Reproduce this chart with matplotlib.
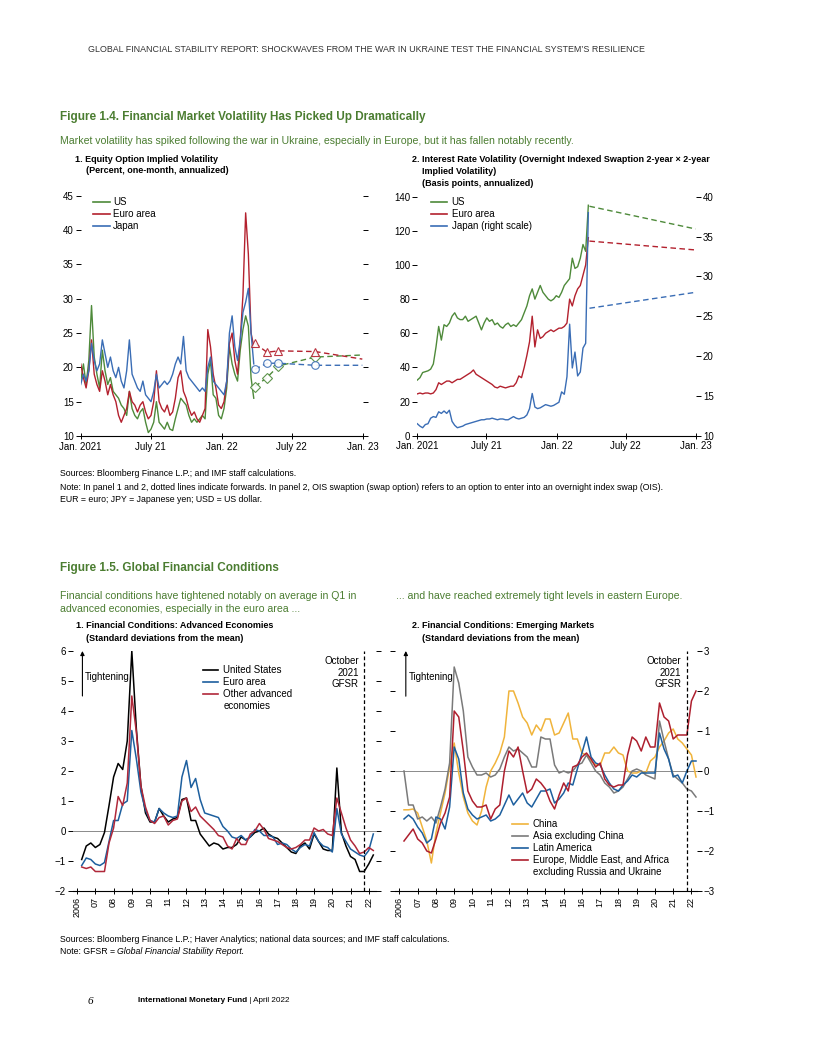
import pandas as pd
import matplotlib
matplotlib.use('Agg')
import matplotlib.pyplot as plt
from matplotlib.lines import Line2D

W, H = 816, 1056
plt.rcParams['font.family'] = ['Liberation Sans Narrow', 'Liberation Sans', 'DejaVu Sans']

# ---------------- Figure 1.4 data (weekly readings, Jan 2021 - Mar 2022) ----------------
weeks = pd.date_range('2021-01-01', periods=65, freq='7D')

eq_us = [18.0, 20.5, 17.5, 21.0, 29.0, 21.5, 19.0, 17.0, 22.5, 19.5,
         17.5, 18.5, 16.5, 16.0, 15.5, 14.5, 14.0, 13.0, 16.5, 14.0,
         13.0, 12.5, 13.5, 14.0, 12.0, 10.5, 11.0, 12.0, 15.0, 12.0,
         11.5, 11.0, 12.0, 11.0, 10.8, 12.5, 14.0, 15.5, 15.0, 14.5,
         13.0, 12.0, 12.5, 12.0, 12.5, 13.0, 12.5, 19.0, 21.0, 16.0,
         15.5, 13.0, 12.5, 14.0, 17.0, 23.0, 20.5, 19.0, 18.0, 22.5,
         25.5, 27.5, 26.0, 18.5, 15.5]
eq_euro = [20.5, 18.5, 17.0, 19.5, 24.0, 19.0, 17.5, 16.5, 19.5, 18.0,
           16.0, 17.5, 16.0, 15.0, 13.0, 12.0, 13.0, 14.0, 16.5, 15.0,
           14.5, 13.5, 14.5, 15.0, 13.5, 12.5, 13.0, 15.0, 19.5, 15.0,
           14.0, 13.5, 14.5, 13.0, 13.5, 15.5, 18.5, 19.5, 16.5, 15.5,
           14.0, 13.0, 13.5, 12.5, 12.0, 13.0, 14.0, 25.5, 23.0, 19.0,
           17.0, 14.5, 14.0, 15.0, 18.0, 23.5, 25.0, 21.0, 19.0, 24.0,
           30.5, 42.5, 36.5, 25.0, 23.0]
eq_japan = [17.5, 19.0, 18.0, 19.5, 23.5, 21.0, 19.5, 20.5, 24.0, 22.0,
            20.0, 21.5, 19.5, 18.5, 20.0, 18.0, 17.0, 19.5, 24.0, 19.0,
            18.0, 17.0, 16.5, 18.0, 16.0, 15.5, 15.0, 16.5, 19.0, 17.0,
            17.5, 18.0, 17.5, 18.0, 19.0, 20.5, 21.5, 20.5, 24.5, 19.5,
            18.5, 18.0, 17.5, 17.0, 16.5, 17.0, 16.5, 20.0, 21.5, 18.0,
            17.5, 17.0, 16.5, 16.0, 18.0, 25.0, 27.5, 23.0, 21.0, 24.0,
            28.0, 29.5, 31.5, 25.0, 20.5]

fwd_dates = pd.to_datetime(['2022-03-28', '2022-04-28', '2022-05-28', '2022-08-31', '2022-12-31'])
eq_us_fwd = [17.2, 18.5, 20.2, 21.5, 21.8]
eq_euro_fwd = [23.5, 22.2, 22.4, 22.3, 21.2]
eq_japan_fwd = [19.7, 20.6, 20.6, 20.3, 20.3]

ir_us = [32.6, 34.0, 37.0, 37.5, 38.0, 39.0, 42.0, 52.0, 64.0, 56.0,
         65.0, 64.0, 66.0, 70.0, 72.0, 69.0, 68.0, 68.0, 70.0, 67.0,
         68.0, 69.0, 70.0, 66.0, 62.0, 66.0, 69.0, 67.0, 68.0, 65.0,
         66.0, 64.0, 63.0, 65.0, 66.0, 64.0, 65.0, 64.0, 66.0, 68.0,
         72.0, 76.0, 82.0, 86.0, 80.0, 84.0, 88.0, 84.0, 82.0, 80.0,
         79.0, 80.0, 82.0, 81.0, 84.0, 88.0, 90.0, 92.0, 104.0, 98.0,
         99.0, 104.0, 112.0, 108.0, 135.0]
ir_euro = [24.5, 25.0, 24.5, 25.0, 25.0, 24.5, 25.0, 27.0, 31.0, 30.0,
           31.0, 32.0, 32.0, 31.0, 32.0, 33.0, 33.0, 34.0, 35.0, 36.0,
           37.0, 38.5, 36.0, 35.0, 34.0, 33.0, 32.0, 31.0, 30.0, 28.5,
           28.0, 29.0, 28.5, 28.0, 28.5, 29.0, 29.0, 31.0, 35.0, 34.0,
           40.0, 47.0, 55.0, 70.0, 52.0, 62.0, 57.0, 58.0, 60.0, 61.0,
           62.0, 61.0, 62.0, 63.0, 63.0, 64.0, 66.0, 80.0, 76.0, 82.0,
           86.0, 88.0, 94.0, 100.0, 116.0]
ir_japan = [11.5, 11.2, 11.0, 11.4, 11.5, 12.2, 12.4, 12.3, 13.0, 12.8,
            13.1, 12.8, 13.2, 11.8, 11.3, 11.0, 11.1, 11.2, 11.4, 11.5,
            11.6, 11.7, 11.8, 11.9, 12.0, 12.0, 12.1, 12.1, 12.2, 12.1,
            12.0, 12.1, 12.1, 12.0, 12.0, 12.2, 12.4, 12.2, 12.1, 12.2,
            12.3, 12.6, 13.4, 15.3, 13.6, 13.4, 13.5, 13.7, 13.9, 13.8,
            13.7, 13.8, 14.0, 14.2, 15.5, 15.2, 17.4, 24.0, 18.5, 20.5,
            17.5, 18.0, 21.0, 21.6, 38.0]

ir_fwd_dates = pd.to_datetime(['2022-03-28', '2022-12-31'])
ir_us_fwd = [134.4, 121.1]
ir_euro_fwd = [114.0, 108.8]
ir_japan_fwd = [26.0, 28.0]

month_ticks = pd.to_datetime(['2021-01-01', '2021-07-01', '2022-01-01', '2022-07-01', '2023-01-01'])
month_labels = ['Jan. 2021', 'July 21', 'Jan. 22', 'July 22', 'Jan. 23']

# ---------------- Figure 1.5 data (quarterly, 2006:Q1 - 2022:Q1) ----------------
quarters = pd.period_range('2006Q1', '2022Q1', freq='Q')
qx = quarters.year + quarters.quarter / 4  # plotted at quarter end

fc_us = [-0.95, -0.5, -0.4, -0.55, -0.45, -0.05, 0.85, 1.8, 2.25, 2.05, 3.0, 6.0,
         3.4, 1.5, 0.6, 0.3, 0.3, 0.75, 0.5, 0.3, 0.4, 0.45, 1.05, 1.1,
         0.35, 0.35, -0.1, -0.3, -0.5, -0.4, -0.45, -0.6, -0.55, -0.55, -0.45,
         -0.2, -0.3, -0.2, -0.05, 0.0, 0.1, -0.1, -0.2, -0.25, -0.4, -0.55, -0.7,
         -0.75, -0.5, -0.4, -0.6, -0.1, -0.35, -0.6, -0.65, -0.65,
         2.1, -0.05, -0.5, -0.85, -0.95, -1.35, -1.35, -1.1, -0.8]
fc_euro = [-1.15, -0.9, -0.95, -1.1, -1.15, -1.05, -0.35, 0.35, 0.35, 0.9, 1.0, 3.35,
           2.4, 1.3, 0.7, 0.35, 0.3, 0.75, 0.6, 0.5, 0.45, 0.5, 1.8, 2.35,
           1.45, 1.75, 1.05, 0.6, 0.55, 0.5, 0.45, 0.15, 0.0, -0.2, -0.25,
           -0.15, -0.3, -0.2, 0.05, 0.0, -0.15, -0.15, -0.2, -0.45, -0.4, -0.45, -0.6,
           -0.7, -0.55, -0.45, -0.5, -0.05, -0.35, -0.5, -0.55, -0.7,
           0.75, -0.1, -0.35, -0.6, -0.7, -0.8, -0.85, -0.65, -0.1]
fc_other = [-1.2, -1.25, -1.2, -1.35, -1.35, -1.35, -0.4, 0.1, 1.15, 0.85, 1.6, 4.5,
            3.3, 1.5, 0.8, 0.35, 0.25, 0.45, 0.5, 0.2, 0.35, 0.4, 1.0, 1.1,
            0.65, 0.8, 0.5, 0.35, 0.2, 0.05, -0.15, -0.2, -0.5, -0.6, -0.25,
            -0.45, -0.45, -0.1, 0.0, 0.25, 0.05, -0.25, -0.3, -0.35, -0.45, -0.55, -0.6,
            -0.55, -0.45, -0.3, -0.3, 0.1, 0.0, 0.05, -0.1, -0.15,
            1.1, 0.6, 0.1, -0.3, -0.5, -0.75, -0.7, -0.55, -0.65]

em_china = [-0.97, -0.97, -0.95, -1.05, -1.4, -1.75, -2.3, -1.55, -1.05, -0.55,
            0.1, 0.7, -0.05, -0.65, -1.05, -1.25, -1.35, -1.0, -0.4, 0.0,
            0.2, 0.45, 0.85, 2.0, 2.0, 1.7, 1.35, 1.2, 0.9, 1.15,
            1.0, 1.3, 1.3, 0.9, 0.95, 1.2, 1.45, 0.8, 0.8, 0.45,
            0.4, 0.25, 0.15, 0.15, 0.45, 0.45, 0.6, 0.45, 0.4, 0.0,
            -0.05, -0.05, 0.0, -0.05, 0.25, 0.35, 0.6, 0.75, 0.95, 1.05,
            0.8, 0.7, 0.55, 0.4, -0.15]
em_asia = [0.0, -0.85, -0.85, -1.2, -1.15, -1.25, -1.15, -1.3, -0.9, -0.45,
           0.2, 2.6, 2.2, 1.5, 0.35, 0.1, -0.1, -0.1, -0.05, -0.15,
           -0.1, 0.05, 0.35, 0.6, 0.5, 0.55, 0.45, 0.35, 0.1, 0.1,
           0.85, 0.8, 0.8, 0.15, -0.05, 0.0, -0.05, 0.0, 0.15, 0.2,
           0.4, 0.2, 0.0, -0.1, -0.3, -0.4, -0.55, -0.5, -0.4, -0.2,
           0.0, 0.05, 0.0, -0.1, -0.15, -0.2, 1.25, 0.75, 0.3, -0.1,
           -0.2, -0.3, -0.45, -0.5, -0.65]
em_latam = [-1.2, -1.1, -1.2, -1.4, -1.55, -1.8, -1.7, -1.15, -1.2, -1.45,
            -0.9, 0.6, 0.3, -0.55, -0.95, -1.1, -1.2, -1.15, -1.1, -1.25,
            -1.2, -1.1, -0.85, -0.6, -0.85, -0.7, -0.55, -0.8, -0.9, -0.7,
            -0.5, -0.5, -0.45, -0.8, -0.7, -0.55, -0.3, -0.35, 0.05, 0.45,
            0.85, 0.35, 0.2, 0.15, -0.1, -0.3, -0.45, -0.5, -0.35, -0.25,
            -0.1, -0.15, -0.05, -0.05, -0.05, -0.05, 0.95, 0.55, 0.3, -0.15,
            -0.1, -0.3, 0.0, 0.25, 0.25]
em_emea = [-1.75, -1.6, -1.45, -1.7, -1.8, -2.0, -2.05, -1.7, -1.3, -1.05,
           -0.65, 1.5, 1.35, 0.5, -0.5, -0.75, -0.9, -0.9, -0.85, -1.2,
           -0.95, -0.85, 0.0, 0.5, 0.35, 0.6, 0.0, -0.55, -0.45, -0.2,
           -0.3, -0.45, -0.75, -0.95, -0.6, -0.3, -0.5, 0.1, 0.15, 0.35,
           0.45, 0.3, 0.1, 0.2, -0.2, -0.35, -0.4, -0.35, -0.35, 0.4,
           0.85, 0.75, 0.5, 0.85, 0.6, 0.6, 1.7, 1.35, 1.25, 0.8,
           0.9, 0.9, 0.9, 1.75, 2.0]

years = list(range(2006, 2023))
year_labels = ['2006'] + ['%02d' % (y % 100) for y in years[1:]]
gfsr_date = 2021.75

# colours
GREEN_TXT = '#4b7d31'
C_US, C_EU, C_JP = '#4e8a3a', '#b3212e', '#3a6db5'
C_BLK, C_EA, C_OTH = '#000000', '#1d5f9e', '#b0283a'
C_CN, C_AS, C_LA, C_EM = '#f0b43c', '#7a7a7a', '#1d5f9e', '#ae1f2e'

FS = 7.0        # ticks, legends, annotations
FS_YEAR = 6.5   # rotated year labels
BUMP = 1.05     # fonts are wider than the condensed original; trade a little width for height

fig = plt.figure(figsize=(W / 100, H / 100), dpi=100)
renderer = fig.canvas.get_renderer()


def rect(x0, y0, x1, y1):
    return [x0 / W, 1 - y1 / H, (x1 - x0) / W, (y1 - y0) / H]


def txt(x, y, s, **kw):
    kw.setdefault('va', 'center')
    return fig.text(x / W, 1 - y / H, s, **kw)


def fit_size(s, target, **kw):
    t = fig.text(0, 0, s, fontsize=10, **kw)
    w = t.get_window_extent(renderer).width
    t.remove()
    return 10 * target / w


def after(t):
    return t.get_window_extent(renderer).x1


def key(x0, x1, xt, y, lines, color):
    fig.add_artist(Line2D([x0 / W, x1 / W], [1 - y / H, 1 - y / H], color=color, lw=1.2))
    for j, s in enumerate(lines):
        txt(xt, y + 12 * j, s, fontsize=FS)


def style(ax, labelleft=True, labelright=False, fs=FS):
    for s in ['left', 'right', 'top']:
        ax.spines[s].set_visible(False)
    ax.spines['bottom'].set_linewidth(0.8)
    ax.tick_params(axis='x', direction='inout', length=5, width=0.7, labelsize=fs, pad=1.5)
    ax.tick_params(axis='y', direction='out', length=3.5, width=0.7, labelsize=FS, pad=1.5,
                   left=True, right=True, labelleft=labelleft, labelright=labelright)


# ---------------- page text ----------------
header = "GLOBAL FINANCIAL STABILITY REPORT: SHOCKWAVES FROM THE WAR IN UKRAINE TEST THE FINANCIAL SYSTEM\u2019S RESILIENCE"
txt(88, 50, header, fontsize=fit_size(header, 553), color='#333333')

title_fs = BUMP * fit_size("Figure 1.4. Financial Market Volatility Has Picked Up Dramatically", 346, fontweight='bold')
sub_fs = BUMP * fit_size("Market volatility has spiked following the war in Ukraine, especially in Europe, but it has fallen notably recently.", 492)
ptitle_fs = fit_size("2. Interest Rate Volatility (Overnight Indexed Swaption 2-year \u00d7 2-year", 298, fontweight='bold')
note_fs = fit_size("Sources: Bloomberg Finance L.P.; Haver Analytics; national data sources; and IMF staff calculations.", 393)

txt(60, 117, "Figure 1.4. Financial Market Volatility Has Picked Up Dramatically", fontsize=title_fs, fontweight='bold', color=GREEN_TXT)
txt(60, 141, "Market volatility has spiked following the war in Ukraine, especially in Europe, but it has fallen notably recently.",
    fontsize=sub_fs, color=GREEN_TXT)
txt(75, 159, "1. Equity Option Implied Volatility", fontsize=ptitle_fs, fontweight='bold')
txt(86.5, 171, "(Percent, one-month, annualized)", fontsize=ptitle_fs, fontweight='bold')
txt(411.5, 159, "2. Interest Rate Volatility (Overnight Indexed Swaption 2-year \u00d7 2-year", fontsize=ptitle_fs, fontweight='bold')
txt(422, 171.5, "Implied Volatility)", fontsize=ptitle_fs, fontweight='bold')
txt(422, 183.5, "(Basis points, annualized)", fontsize=ptitle_fs, fontweight='bold')

txt(60, 474, "Sources: Bloomberg Finance L.P.; and IMF staff calculations.", fontsize=note_fs)
txt(60, 487, "Note: In panel 1 and 2, dotted lines indicate forwards. In panel 2, OIS swaption (swap option) refers to an option to enter into an overnight index swap (OIS).", fontsize=note_fs)
txt(60, 499, "EUR = euro; JPY = Japanese yen; USD = US dollar.", fontsize=note_fs)

txt(60, 568, "Figure 1.5. Global Financial Conditions", fontsize=title_fs, fontweight='bold', color=GREEN_TXT)
txt(60, 596, "Financial conditions have tightened notably on average in Q1 in", fontsize=sub_fs, color=GREEN_TXT)
txt(60, 609, "advanced economies, especially in the euro area ...", fontsize=sub_fs, color=GREEN_TXT)
txt(396.5, 596, "... and have reached extremely tight levels in eastern Europe.", fontsize=sub_fs, color=GREEN_TXT)
txt(76, 626, "1. Financial Conditions: Advanced Economies", fontsize=ptitle_fs, fontweight='bold')
txt(86.5, 638.5, "(Standard deviations from the mean)", fontsize=ptitle_fs, fontweight='bold')
txt(411.5, 626, "2. Financial Conditions: Emerging Markets", fontsize=ptitle_fs, fontweight='bold')
txt(422, 638.5, "(Standard deviations from the mean)", fontsize=ptitle_fs, fontweight='bold')

txt(60, 940, "Sources: Bloomberg Finance L.P.; Haver Analytics; national data sources; and IMF staff calculations.", fontsize=note_fs)
t = txt(60, 952, "Note: GFSR = ", fontsize=note_fs)
txt(after(t), 952, "Global Financial Stability Report.", fontsize=note_fs, fontstyle='italic')

foot_fs = fit_size("International Monetary Fund | April 2022", 145)
txt(88, 1001, "6", fontsize=8, fontstyle='italic', family=['Liberation Serif', 'DejaVu Serif'])
t = txt(138, 1001, "International Monetary Fund", fontsize=foot_fs, fontweight='bold')
txt(after(t), 1001, " | April 2022", fontsize=foot_fs)

# ---------------- Figure 1.4, panel 1 ----------------
ax1 = fig.add_axes(rect(80.7, 195.7, 362.7, 436))
ax1.plot(weeks, eq_us, color=C_US, lw=1.0)
ax1.plot(weeks, eq_euro, color=C_EU, lw=1.0)
ax1.plot(weeks, eq_japan, color=C_JP, lw=1.0)
for vals, col, mk in [(eq_us_fwd, C_US, 'D'), (eq_euro_fwd, C_EU, '^'), (eq_japan_fwd, C_JP, 'o')]:
    ax1.plot(fwd_dates, vals, color=col, lw=1.0, ls=(0, (4, 2.5)))
    ax1.plot(fwd_dates[:4], vals[:4], ls='none', marker=mk, ms=5.5 if mk != 'D' else 4.6,
             mfc='white', mec=col, mew=0.8, alpha=0.9)
ax1.set_xlim(month_ticks[0], month_ticks[-1])
ax1.set_ylim(10, 45)
ax1.set_yticks(range(10, 50, 5))
ax1.set_xticks(month_ticks)
ax1.set_xticklabels(month_labels)
style(ax1)
key(93.3, 110, 113.3, 202.3, ['US'], C_US)
key(93.3, 110, 113.3, 214.3, ['Euro area'], C_EU)
key(93.3, 110, 113.3, 226.3, ['Japan'], C_JP)

# ---------------- Figure 1.4, panel 2 ----------------
ax2 = fig.add_axes(rect(417.3, 196.7, 696, 435.7))
ax2.plot(weeks, ir_us, color=C_US, lw=1.0)
ax2.plot(weeks, ir_euro, color=C_EU, lw=1.0)
ax2.plot(ir_fwd_dates, ir_us_fwd, color=C_US, lw=1.0, ls=(0, (4, 2.5)))
ax2.plot(ir_fwd_dates, ir_euro_fwd, color=C_EU, lw=1.0, ls=(0, (4, 2.5)))
ax2.set_xlim(month_ticks[0], month_ticks[-1])
ax2.set_ylim(0, 140)
ax2.set_yticks(range(0, 160, 20))
ax2.set_xticks(month_ticks)
ax2.set_xticklabels(month_labels)
style(ax2)
ax2.tick_params(axis='y', right=False)
ax2r = ax2.twinx()
ax2r.plot(weeks, ir_japan, color=C_JP, lw=1.0)
ax2r.plot(ir_fwd_dates, ir_japan_fwd, color=C_JP, lw=1.0, ls=(0, (4, 2.5)))
ax2r.set_ylim(10, 40)
ax2r.set_yticks(range(10, 45, 5))
for s in ['left', 'right', 'top', 'bottom']:
    ax2r.spines[s].set_visible(False)
ax2r.tick_params(axis='y', direction='out', length=3.5, width=0.7, labelsize=FS, pad=1.5)
key(430.7, 447.3, 451.7, 202.3, ['US'], C_US)
key(430.7, 447.3, 451.7, 214.3, ['Euro area'], C_EU)
key(430.7, 447.3, 451.7, 226.3, ['Japan (right scale)'], C_JP)

# ---------------- Figure 1.5, panel 1 ----------------
ax3 = fig.add_axes(rect(73, 651, 376, 891))
ax3.axhline(0, color='#8a8a8a', lw=0.7)
ax3.plot(qx, fc_us, color=C_BLK, lw=1.1)
ax3.plot(qx, fc_euro, color=C_EA, lw=1.1)
ax3.plot(qx, fc_other, color=C_OTH, lw=1.1)
ax3.axvline(gfsr_date, color='black', lw=0.9, ls=(0, (3, 2)))
ax3.set_xlim(2005.773, 2022.398)
ax3.set_ylim(-2, 6)
ax3.set_yticks(range(-2, 7))
ax3.set_yticklabels(['\u22122', '\u22121', '0', '1', '2', '3', '4', '5', '6'])
ax3.set_xticks(years)
ax3.set_xticklabels(year_labels, rotation=90)
style(ax3, fs=FS_YEAR)
ax3.annotate('', xy=(2006.29, 6), xytext=(2006.29, 4.5),
             arrowprops=dict(arrowstyle='-|>', color='black', lw=0.8, mutation_scale=6, shrinkA=0, shrinkB=0))
ax3.text(2006.43, 5.15, 'Tightening', fontsize=FS, va='center')
ax3.annotate('October\n2021\nGFSR', xy=(gfsr_date, 5.83), xytext=(-4, 0), textcoords='offset points',
             ha='right', va='top', multialignment='right', fontsize=FS, linespacing=1.2)
key(203.3, 218.3, 223.3, 670, ['United States'], C_BLK)
key(203.3, 218.3, 223.3, 682, ['Euro area'], C_EA)
key(203.3, 218.3, 223.3, 694, ['Other advanced', 'economies'], C_OTH)

# ---------------- Figure 1.5, panel 2 ----------------
ax4 = fig.add_axes(rect(395, 651, 697, 891))
ax4.axhline(0, color='#8a8a8a', lw=0.7)
ax4.plot(qx, em_china, color=C_CN, lw=1.1)
ax4.plot(qx, em_asia, color=C_AS, lw=1.1)
ax4.plot(qx, em_latam, color=C_LA, lw=1.1)
ax4.plot(qx, em_emea, color=C_EM, lw=1.1)
ax4.axvline(gfsr_date, color='black', lw=0.9, ls=(0, (3, 2)))
ax4.set_xlim(2005.757, 2022.305)
ax4.set_ylim(-3, 3)
ax4.set_yticks(range(-3, 4))
ax4.set_yticklabels(['\u22123', '\u22122', '\u22121', '0', '1', '2', '3'])
ax4.set_xticks(years)
ax4.set_xticklabels(year_labels, rotation=90)
style(ax4, labelleft=False, labelright=True, fs=FS_YEAR)
ax4.annotate('', xy=(2006.35, 3), xytext=(2006.35, 1.87),
             arrowprops=dict(arrowstyle='-|>', color='black', lw=0.8, mutation_scale=6, shrinkA=0, shrinkB=0))
ax4.text(2006.53, 2.36, 'Tightening', fontsize=FS, va='center')
ax4.annotate('October\n2021\nGFSR', xy=(gfsr_date, 2.87), xytext=(-4, 0), textcoords='offset points',
             ha='right', va='top', multialignment='right', fontsize=FS, linespacing=1.2)
key(511.7, 528.3, 532.7, 824.3, ['China'], C_CN)
key(511.7, 528.3, 532.7, 836.3, ['Asia excluding China'], C_AS)
key(511.7, 528.3, 532.7, 848.3, ['Latin America'], C_LA)
key(511.7, 528.3, 532.7, 860.3, ['Europe, Middle East, and Africa', 'excluding Russia and Ukraine'], C_EM)

fig.savefig('out.png', dpi=100)
